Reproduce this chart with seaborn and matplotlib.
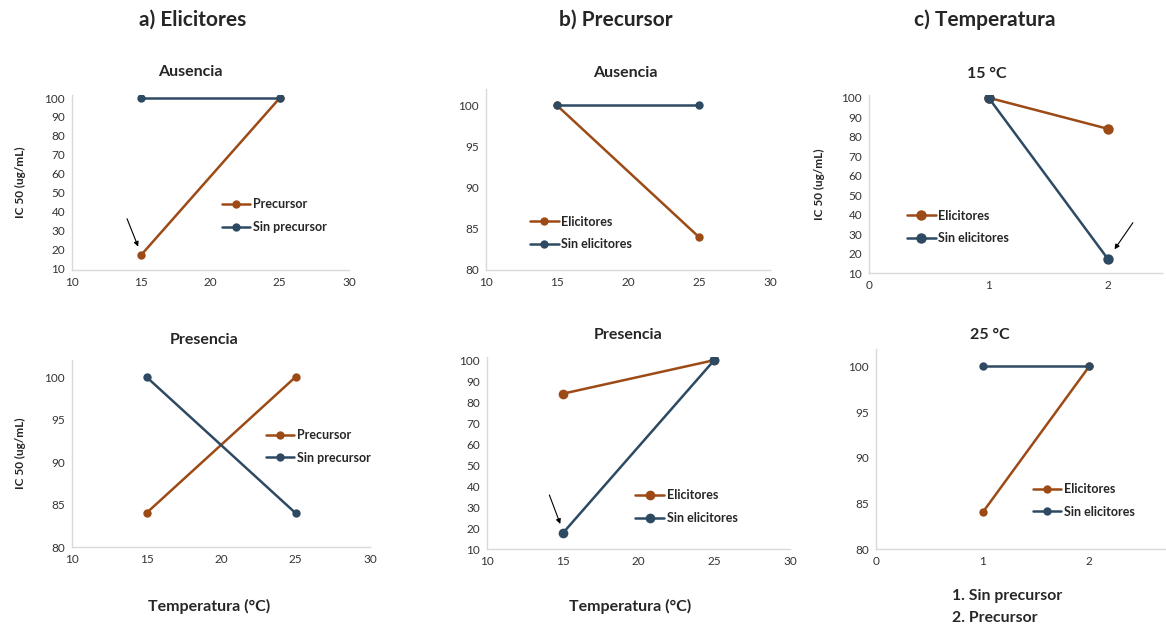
import numpy as np
import matplotlib
matplotlib.use("Agg")
import matplotlib.pyplot as plt
import pandas as pd
import seaborn as sns

# datos
temperaturas = [15, 25]
niveles = [1, 2]

a_aus_precursor = [17, 100]
a_aus_sin_precursor = [100, 100]
a_pre_precursor = [84, 100]
a_pre_sin_precursor = [100, 84]

b_aus_elicitores = [100, 84]
b_aus_sin_elicitores = [100, 100]
b_pre_elicitores = [84, 100]
b_pre_sin_elicitores = [17.5, 100]

c_15_elicitores = [100, 84]
c_15_sin_elicitores = [100, 17]
c_25_elicitores = [84, 100]
c_25_sin_elicitores = [100, 100]

naranja = "#9C4A16"
azul = "#2E4A62"

sns.set_style("white")
plt.rcParams['font.family'] = ['Lato', 'DejaVu Sans']

fig = plt.figure(figsize=(11.66, 6.26), dpi=100)
W, H = 1166, 626


def caja(x0, y0, x1, y1):
    return [x0 / W, 1 - y1 / H, (x1 - x0) / W, (y1 - y0) / H]


def panel(rect, x, s1, s2, names, xlim, ylim, yticks, xticks, leg_pos, ms=6):
    ax = fig.add_axes(rect)
    df = pd.DataFrame({
        'x': list(x) + list(x),
        'y': list(s1) + list(s2),
        'serie': [names[0]] * len(x) + [names[1]] * len(x),
    })
    sns.lineplot(data=df, x='x', y='y', hue='serie', hue_order=names,
                 palette=[naranja, azul], marker='o', markersize=ms,
                 markeredgewidth=0, linewidth=1.8, ax=ax)
    ax.set_xlim(*xlim)
    ax.set_ylim(*ylim)
    ax.set_xticks(xticks)
    ax.set_yticks(yticks)
    ax.set_xlabel('')
    ax.set_ylabel('')
    sns.despine(ax=ax)
    for s in ['left', 'bottom']:
        ax.spines[s].set_color('#D9D9D9')
        ax.spines[s].set_linewidth(1.0)
    ax.tick_params(length=0, labelsize=8.5, colors='#333333', pad=5)
    sns.move_legend(ax, 'upper left', bbox_to_anchor=leg_pos, frameon=False,
                    title=None, prop={'weight': 'bold', 'size': 9},
                    handlelength=2.3, handletextpad=0.2, labelspacing=0.85,
                    borderpad=0, borderaxespad=0)
    return ax


def titulo(x, y, txt, size=11.5):
    fig.text(x / W, 1 - y / H, txt, ha='center', va='center', fontsize=size, fontweight='bold')


flecha = dict(arrowstyle='-|>', color='black', lw=0.8, mutation_scale=7)

# a) Elicitores
ax1 = panel(caja(72, 95, 349, 270), temperaturas, a_aus_precursor, a_aus_sin_precursor,
            ['Precursor', 'Sin precursor'], (10, 30), (9, 101.6),
            range(10, 101, 10), range(10, 31, 5), (0.54, 0.41))
ax1.set_ylabel('IC 50 (ug/mL)', fontsize=8.5, fontweight='bold')
ax1.yaxis.set_label_coords(-0.165, 0.5)
ax1.annotate('', xy=(14.85, 20), xytext=(13.9, 37.5), arrowprops=flecha)
titulo(190, 72, 'Ausencia')

ax4 = panel(caja(72, 360, 370, 547), temperaturas, a_pre_precursor, a_pre_sin_precursor,
            ['Precursor', 'Sin precursor'], (10, 30), (80, 102),
            range(80, 101, 5), range(10, 31, 5), (0.65, 0.63))
ax4.set_ylabel('IC 50 (ug/mL)', fontsize=8.5, fontweight='bold')
ax4.yaxis.set_label_coords(-0.155, 0.5)
titulo(204, 340, 'Presencia')

# b) Precursor
ax2 = panel(caja(486, 89, 770, 270), temperaturas, b_aus_elicitores, b_aus_sin_elicitores,
            ['Elicitores', 'Sin elicitores'], (10, 30), (80, 102),
            range(80, 101, 5), range(10, 31, 5), (0.155, 0.30))
titulo(625, 73, 'Ausencia')

ax5 = panel(caja(487, 357, 790, 549), temperaturas, b_pre_elicitores, b_pre_sin_elicitores,
            ['Elicitores', 'Sin elicitores'], (10, 30), (10, 101.5),
            range(10, 101, 10), range(10, 31, 5), (0.49, 0.31), ms=7)
ax5.annotate('', xy=(14.9, 20.7), xytext=(14.05, 37), arrowprops=flecha)
titulo(628, 335, 'Presencia')

# c) Temperatura
ax3 = panel(caja(869, 95, 1162, 273), niveles, c_15_elicitores, c_15_sin_elicitores,
            ['Elicitores', 'Sin elicitores'], (0, 2.45), (10, 101.4),
            range(10, 101, 10), [0, 1, 2], (0.13, 0.355), ms=7.5)
ax3.set_ylabel('IC 50 (ug/mL)', fontsize=8.5, fontweight='bold')
ax3.yaxis.set_label_coords(-0.15, 0.5)
ax3.annotate('', xy=(2.04, 21), xytext=(2.22, 37), arrowprops=flecha)
titulo(987, 74, '15 °C')

ax6 = panel(caja(876, 349, 1166, 549), niveles, c_25_elicitores, c_25_sin_elicitores,
            ['Elicitores', 'Sin elicitores'], (0, 2.72), (80, 101.9),
            range(80, 101, 5), [0, 1, 2], (0.54, 0.33))
titulo(990, 335, '25 °C')

# titulos de columna y etiquetas
titulo(193, 20, 'a) Elicitores', 15)
titulo(616, 20, 'b) Precursor', 15)
titulo(985, 20, 'c) Temperatura', 15)

titulo(209, 606, 'Temperatura (°C)', 11.5)
titulo(630, 606, 'Temperatura (°C)', 11.5)
fig.text(952 / W, 1 - 596 / H, '1. Sin precursor', ha='left', va='center', fontsize=11.3, fontweight='bold')
fig.text(952 / W, 1 - 618 / H, '2. Precursor', ha='left', va='center', fontsize=11.3, fontweight='bold')

fig.savefig('out.png', dpi=100)
